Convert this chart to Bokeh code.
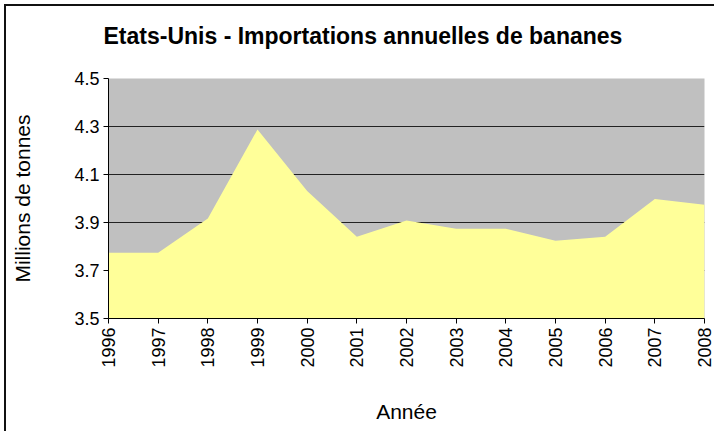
from bokeh.plotting import figure
from bokeh.models import FixedTicker, Title, CustomJSTickFormatter
from bokeh.embed import file_html
from bokeh.resources import INLINE

years = [1996, 1997, 1998, 1999, 2000, 2001, 2002, 2003, 2004, 2005, 2006, 2007, 2008]
imports = [3.774, 3.774, 3.917, 4.288, 4.031, 3.841, 3.908, 3.874, 3.874, 3.824, 3.841, 3.998, 3.974]
y_ticks = [3.5, 3.7, 3.9, 4.1, 4.3, 4.5]
y_base = 3.5
title_text = "Etats-Unis - Importations annuelles de bananes"

FONT = "Liberation Sans"

p = figure(output_backend="svg", toolbar_location=None,
           x_range=(years[0], years[-1]), y_range=(3.5, 4.5),
           frame_width=596, frame_height=240,
           min_border_left=102, min_border_top=72, min_border_right=10, min_border_bottom=113)
p.title = None
p.styles = {"margin": "4px 0 0 4px", "border-left": "2px solid #111111",
            "border-top": "2px solid #111111"}
p.background_fill_color = "#C0C0C0"
p.border_fill_color = "white"
p.outline_line_color = None

p.varea(x=years, y1=[y_base] * len(years), y2=imports, fill_color="#FFFF99", fill_alpha=1.0)

p.xgrid.grid_line_color = None
p.ygrid.grid_line_color = "#222222"
p.ygrid.grid_line_width = 1
p.ygrid.ticker = FixedTicker(ticks=y_ticks)

p.yaxis.ticker = FixedTicker(ticks=y_ticks)
p.yaxis.formatter = CustomJSTickFormatter(code="return tick.toFixed(1);")
p.xaxis.ticker = FixedTicker(ticks=years)
p.xaxis.major_label_orientation = 1.5707963

for ax in (p.xaxis[0], p.yaxis[0]):
    ax.axis_line_color = "black"
    ax.axis_line_width = 1
    ax.major_tick_line_color = "black"
    ax.major_tick_out = 5
    ax.major_tick_in = 0
    ax.minor_tick_line_color = None
    ax.major_label_text_font = FONT
    ax.major_label_text_font_size = "18px"
    ax.major_label_text_color = "black"
    ax.axis_label_text_font = FONT
    ax.axis_label_text_font_size = "21px"
    ax.axis_label_text_font_style = "normal"
    ax.axis_label_text_color = "black"
    ax.major_label_standoff = 4

p.yaxis.axis_label = "Millions de tonnes"
p.yaxis.axis_label_standoff = 37
p.xaxis.axis_label = "Année"
p.xaxis.axis_label_standoff = 29

t = Title(text=title_text + "\n ", align="left", offset=-5, vertical_align="top",
          text_font=FONT, text_font_size="23px", text_font_style="bold",
          text_color="black", standoff=4)
p.add_layout(t, "above")

open("out.html", "w").write(file_html(p, INLINE))
